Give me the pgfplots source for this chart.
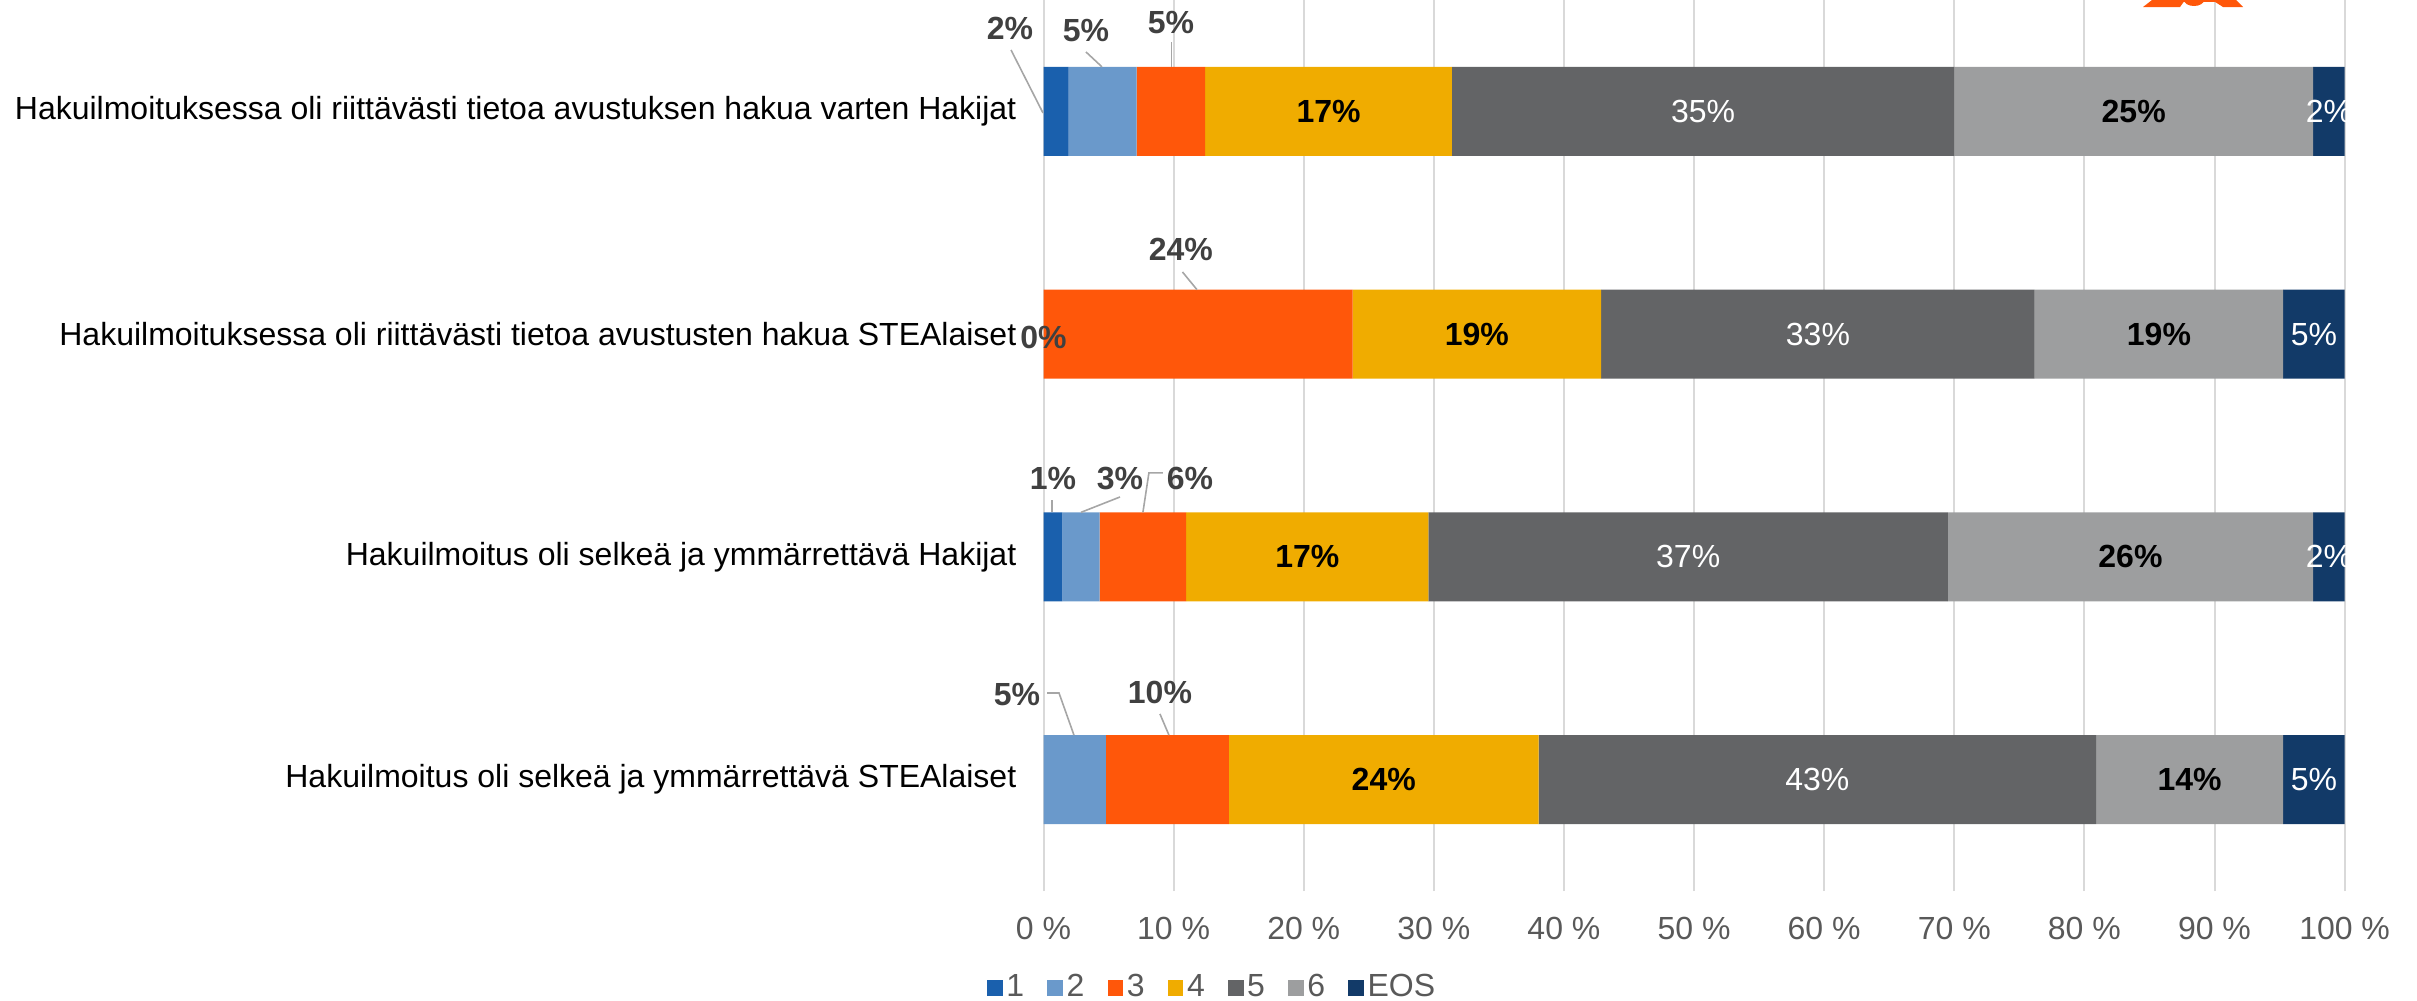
\documentclass[border=0pt]{standalone}
\usepackage{fontspec}
\setmainfont{Liberation Sans}
\usepackage{pgfplots}
\pgfplotsset{compat=1.18}
\definecolor{c1}{HTML}{1A60AD}
\definecolor{c2}{HTML}{6A99CB}
\definecolor{c3}{HTML}{FF570A}
\definecolor{c4}{HTML}{F0AC00}
\definecolor{c5}{HTML}{636466}
\definecolor{c6}{HTML}{9D9E9F}
\definecolor{c7}{HTML}{123A68}
\definecolor{lbl}{HTML}{404040}
\definecolor{tickc}{HTML}{595959}
\definecolor{gridc}{HTML}{D9D9D9}
\definecolor{leadc}{HTML}{A6A6A6}
\tikzset{
  inb/.style={font=\fontsize{8}{9.6}\selectfont\bfseries, text=black, inner sep=0pt},
  inw/.style={font=\fontsize{8}{9.6}\selectfont, text=white, inner sep=0pt},
  cal/.style={font=\fontsize{8}{9.6}\selectfont\bfseries, text=lbl, inner sep=0pt},
  ld/.style={draw=leadc, line width=0.4pt},
}
\begin{document}
\begin{tikzpicture}
\useasboundingbox (0,0) rectangle (604.25pt,250pt);
\begin{axis}[
  at={(260.875pt,27.25pt)}, anchor=south west,
  scale only axis, width=325.275pt, height=222.75pt,
  xbar stacked, bar width=22.3pt,
  legend image code/.code={\fill[#1] (0pt,-2.1pt) rectangle (3.9pt,2.1pt);},
  xmin=0, xmax=100, ymin=-0.5, ymax=3.5,
  clip=false,
  xtick={0,10,20,30,40,50,60,70,80,90,100},
  xticklabels={{0 \%},{10 \%},{20 \%},{30 \%},{40 \%},{50 \%},{60 \%},{70 \%},{80 \%},{90 \%},{100 \%}},
  ytick={0,1,2,3},
  yticklabels={{Hakuilmoitus oli selkeä ja ymmärrettävä STEAlaiset},{Hakuilmoitus oli selkeä ja ymmärrettävä Hakijat},{Hakuilmoituksessa oli riittävästi tietoa avustusten hakua STEAlaiset},{Hakuilmoituksessa oli riittävästi tietoa avustuksen hakua varten Hakijat}},
  xmajorgrids, grid style={color=gridc, line width=0.5pt},
  axis line style={draw=none},
  major tick length=0pt,
  tick label style={font=\fontsize{8}{9.6}\selectfont},
  xticklabel style={text=tickc, anchor=north, inner sep=0pt, yshift=-6.25pt},
  yticklabel style={text=black, anchor=east, inner sep=0pt, xshift=-6.6pt},
  legend style={at={(0.1303,-0.1089)}, anchor=center, draw=none, fill=none,
    legend columns=-1, font=\fontsize{8}{9.6}\selectfont, text=tickc, inner sep=0pt,
    nodes={inner sep=0.9pt},
    /tikz/every even column/.append style={column sep=4.9pt}},
]
\addplot[fill=c1, draw=none] coordinates {(0,0) (1.46,1) (0,2) (1.94,3)};
\addlegendentry{1}
\addplot[fill=c2, draw=none] coordinates {(4.79,0) (2.85,1) (0,2) (5.21,3)};
\addlegendentry{2}
\addplot[fill=c3, draw=none] coordinates {(9.45,0) (6.66,1) (23.75,2) (5.28,3)};
\addlegendentry{3}
\addplot[fill=c4, draw=none] coordinates {(23.82,0) (18.61,1) (19.10,2) (18.96,3)};
\addlegendentry{4}
\addplot[fill=c5, draw=none] coordinates {(42.84,0) (39.93,1) (33.33,2) (38.61,3)};
\addlegendentry{5}
\addplot[fill=c6, draw=none] coordinates {(14.38,0) (28.06,1) (19.10,2) (27.57,3)};
\addlegendentry{6}
\addplot[fill=c7, draw=none] coordinates {(4.72,0) (2.43,1) (4.72,2) (2.43,3)};
\addlegendentry{EOS}
% anchor points for labels (in-bar)
\coordinate (b1) at (axis cs:21.91,3);
\coordinate (b2) at (axis cs:83.79,3);
\coordinate (b3) at (axis cs:33.30,2);
\coordinate (b4) at (axis cs:85.73,2);
\coordinate (b5) at (axis cs:20.28,1);
\coordinate (b6) at (axis cs:83.54,1);
\coordinate (b7) at (axis cs:26.15,0);
\coordinate (b8) at (axis cs:88.09,0);
\coordinate (w1) at (axis cs:50.70,3);
\coordinate (w2) at (axis cs:98.79,3);
\coordinate (w3) at (axis cs:59.52,2);
\coordinate (w4) at (axis cs:97.64,2);
\coordinate (w5) at (axis cs:49.55,1);
\coordinate (w6) at (axis cs:98.79,1);
\coordinate (w7) at (axis cs:59.48,0);
\coordinate (w8) at (axis cs:97.64,0);
% callouts
\coordinate (k1) at (axis cs:-2.57,3.374);
\coordinate (k2) at (axis cs:3.26,3.361);
\coordinate (k3) at (axis cs:9.79,3.401);
\coordinate (k4) at (axis cs:0,1.983);
\coordinate (k5) at (axis cs:10.56,2.378);
\coordinate (k6) at (axis cs:0.73,1.35);
\coordinate (k7) at (axis cs:5.88,1.35);
\coordinate (k8) at (axis cs:11.25,1.35);
\coordinate (k9) at (axis cs:-2.04,0.384);
\coordinate (k10) at (axis cs:8.95,0.393);
% leader lines
\coordinate (l1a) at (axis cs:-2.50,3.276); \coordinate (l1b) at (axis cs:-0.04,2.993);
\coordinate (l2a) at (axis cs:3.26,3.267); \coordinate (l2b) at (axis cs:4.49,3.2);
\coordinate (l3a) at (axis cs:9.83,3.311); \coordinate (l3b) at (axis cs:9.83,3.2);
\coordinate (l4a) at (axis cs:10.68,2.279); \coordinate (l4b) at (axis cs:11.79,2.2);
\coordinate (l5a) at (axis cs:0.65,1.255); \coordinate (l5b) at (axis cs:0.65,1.2);
\coordinate (l6a) at (axis cs:5.88,1.269); \coordinate (l6b) at (axis cs:2.88,1.2);
\coordinate (l7a) at (axis cs:9.18,1.377); \coordinate (l7m) at (axis cs:8.10,1.377); \coordinate (l7b) at (axis cs:7.64,1.2);
\coordinate (l8a) at (axis cs:0.27,0.389); \coordinate (l8m) at (axis cs:1.19,0.389); \coordinate (l8b) at (axis cs:2.34,0.2);
\coordinate (l9a) at (axis cs:8.95,0.295); \coordinate (l9b) at (axis cs:9.64,0.2);
\end{axis}
\node[inb] at (b1) {17\%};
\node[inb] at (b2) {25\%};
\node[inb] at (b3) {19\%};
\node[inb] at (b4) {19\%};
\node[inb] at (b5) {17\%};
\node[inb] at (b6) {26\%};
\node[inb] at (b7) {24\%};
\node[inb] at (b8) {14\%};
\node[inw] at (w1) {35\%};
\node[inw] at (w2) {2\%};
\node[inw] at (w3) {33\%};
\node[inw] at (w4) {5\%};
\node[inw] at (w5) {37\%};
\node[inw] at (w6) {2\%};
\node[inw] at (w7) {43\%};
\node[inw] at (w8) {5\%};
\node[cal] at (k1) {2\%};
\node[cal] at (k2) {5\%};
\node[cal] at (k3) {5\%};
\node[cal] at (k4) {0\%};
\node[cal] at (k5) {24\%};
\node[cal] at (k6) {1\%};
\node[cal] at (k7) {3\%};
\node[cal] at (k8) {6\%};
\node[cal] at (k9) {5\%};
\node[cal] at (k10) {10\%};
\draw[ld] (l1a) -- (l1b);
\draw[ld] (l2a) -- (l2b);
\draw[ld] (l3a) -- (l3b);
\draw[ld] (l4a) -- (l4b);
\draw[ld] (l5a) -- (l5b);
\draw[ld] (l6a) -- (l6b);
\draw[ld] (l7a) -- (l7m) -- (l7b);
\draw[ld] (l8a) -- (l8m) -- (l8b);
\draw[ld] (l9a) -- (l9b);
\fill[c3] (538.25pt,250pt) rectangle (558.75pt,249.5pt);
\fill[c3] (538pt,250pt) -- (546.25pt,250pt) -- (545pt,248.25pt) -- (535.75pt,248.25pt) -- cycle;
\fill[c3] (548.5pt,250pt) ellipse [x radius=2.5pt, y radius=1.5pt];
\fill[c3] (553pt,250pt) -- (559pt,250pt) -- (560.75pt,248.25pt) -- (555.75pt,248.25pt) -- cycle;
\end{tikzpicture}
\end{document}
